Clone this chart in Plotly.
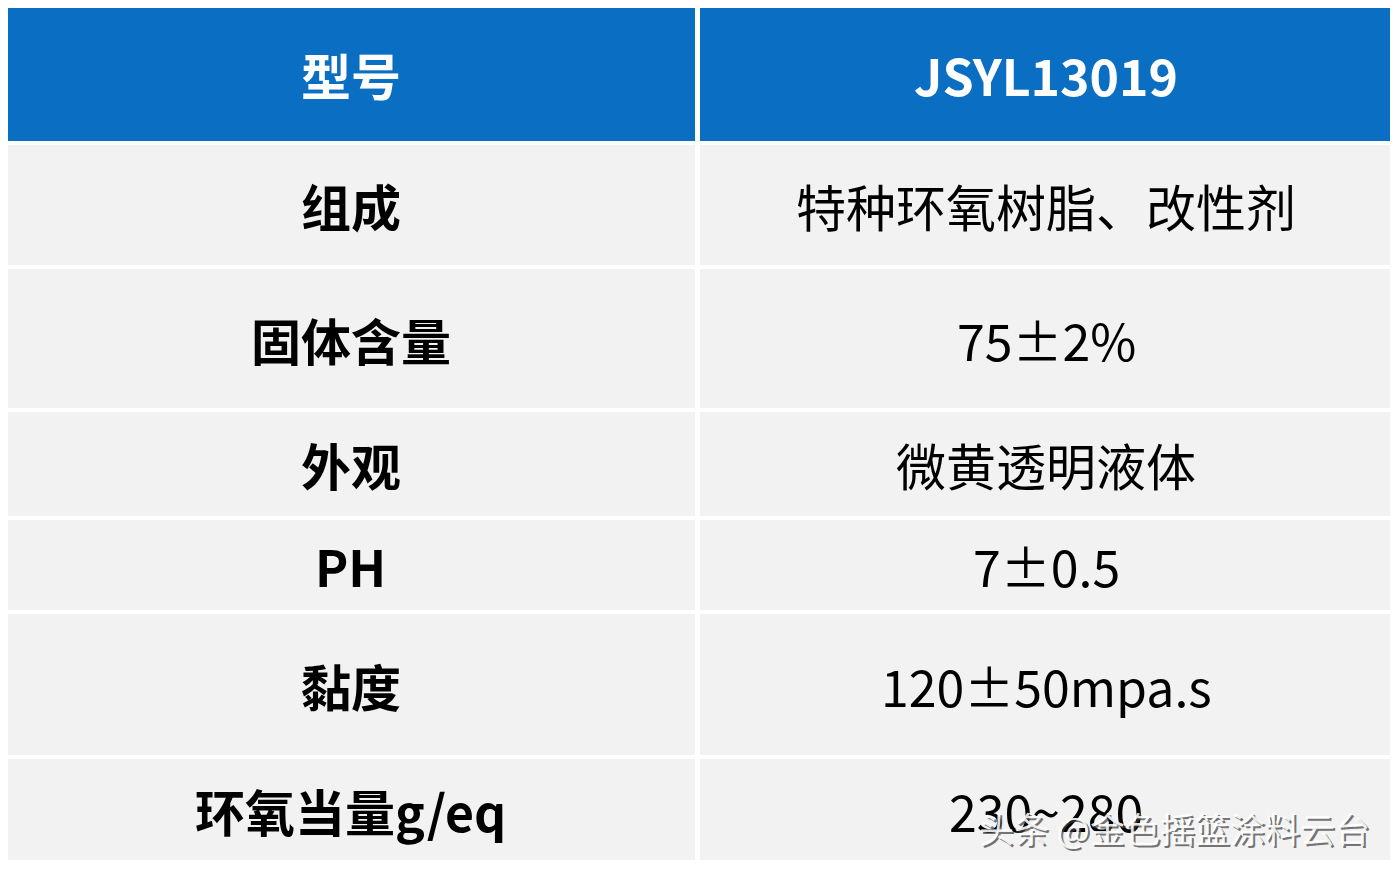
import plotly.graph_objects as go

# table data
header = ["型号", "JSYL13019"]
params = ["组成", "固体含量", "外观", "PH", "黏度", "环氧当量g/eq"]
values = ["特种环氧树脂、改性剂", "75±2%", "微黄透明液体", "7±0.5", "120±50mpa.s", "230~280"]

# layout (pixel geometry, page coordinates)
W, H = 1398, 870
OFF = 8  # page body margin
row_edges = [5, 143, 267, 410, 518, 612, 757, 862]
col_edges = [(6, 695), (700, 1392)]
GAP = 2
BLUE = "#0A6FC2"
GRAY = "#F2F2F2"
FONT = "Noto Sans CJK SC"

fig = go.Figure()
texts = [header] + [[p, v] for p, v in zip(params, values)]

for i, row in enumerate(texts):
    y0, y1 = row_edges[i] + GAP, row_edges[i + 1] - GAP
    for j, (x0, x1) in enumerate(col_edges):
        fig.add_shape(type="rect", x0=x0, x1=x1, y0=y0, y1=y1,
                      fillcolor=BLUE if i == 0 else GRAY, line_width=0, layer="below")
        bold = i == 0 or j == 0
        txt = f"<b>{row[j]}</b>" if bold else row[j]
        color = "white" if i == 0 else "black"
        fig.add_annotation(x=(x0 + x1) / 2, y=(y0 + y1) / 2, text=txt, showarrow=False,
                           font=dict(family=FONT, size=50, color=color))

# watermark
fig.add_annotation(x=1374, y=829, xanchor="right", text="头条 @金色摇篮涂料云台", showarrow=False,
                   font=dict(family=FONT, size=35, color="rgba(60,60,60,0.7)"))
fig.add_annotation(x=1372, y=827, xanchor="right", text="头条 @金色摇篮涂料云台", showarrow=False,
                   font=dict(family=FONT, size=35, color="rgba(255,255,255,0.9)"))

fig.update_layout(
    width=W, height=H, margin=dict(l=0, r=0, t=0, b=0),
    paper_bgcolor="white", plot_bgcolor="white", showlegend=False,
    xaxis=dict(range=[OFF, W + OFF], visible=False, fixedrange=True),
    yaxis=dict(range=[H + OFF, OFF], visible=False, fixedrange=True),
)
fig.write_html("out.html")
